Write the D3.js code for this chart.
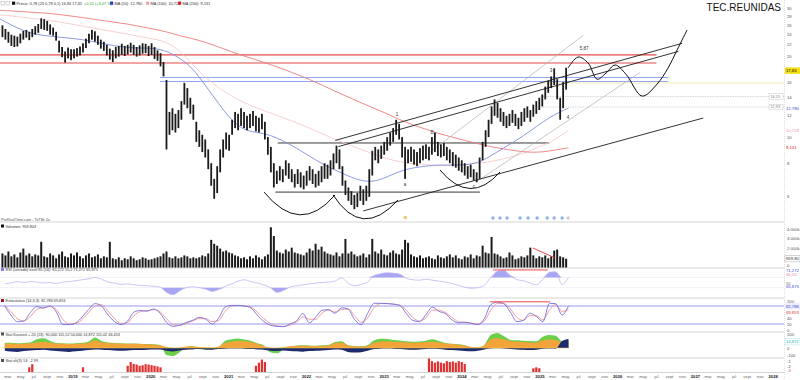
<!DOCTYPE html>
<html><head><meta charset="utf-8">
<script src="https://cdn.jsdelivr.net/npm/d3@7"></script>
<style>body{margin:0;background:#fff}svg{display:block;font-family:"Liberation Sans",Arial,sans-serif}</style>
</head><body><svg id="c" width="800" height="380"></svg>
<script>
// ---------- DATA (biweekly candles from 4 Feb 2018) ----------
const candleHigh=[26.0,25.2,24.6,24.0,23.8,23.6,24.2,24.8,25.0,24.6,
25.2,25.8,26.3,27.6,27.4,27.0,26.2,25.5,24.6,22.8,
21.6,20.8,21.5,21.2,21.2,21.4,21.7,22.3,23.2,24.2,
25.0,24.7,23.8,23.0,22.6,22.0,21.3,21.0,21.6,21.8,
22.2,21.8,22.0,22.4,22.0,21.6,21.9,22.3,22.2,21.8,
22.3,21.6,21.0,20.5,19.0,16.3,12.4,12.8,12.2,12.6,
13.6,15.9,15.2,14.0,13.2,11.4,10.6,10.2,9.8,9.0,
8.0,7.0,7.8,9.0,9.8,10.4,10.2,11.6,12.4,12.2,
12.8,12.4,12.0,12.2,12.5,12.0,11.8,12.2,11.4,10.0,
9.2,8.0,7.5,7.8,7.6,8.2,8.0,7.6,7.3,7.6,
7.4,7.2,7.5,7.8,7.6,7.3,7.5,7.8,8.0,7.9,
8.2,8.7,9.3,9.0,7.8,6.9,6.5,6.3,6.1,6.2,
6.6,6.4,6.6,7.6,8.9,9.2,9.0,9.3,9.6,10.0,
10.4,10.8,11.6,11.2,10.0,9.2,9.0,9.2,9.0,8.8,
9.1,9.3,9.4,9.2,10.0,10.4,9.6,9.4,9.5,9.2,
9.0,8.8,8.6,8.4,8.2,8.0,7.8,7.9,7.6,7.4,
8.4,9.6,10.6,11.6,13.0,13.8,13.4,12.8,12.4,12.0,
12.2,12.6,12.2,11.8,12.4,12.8,13.0,12.6,13.2,13.6,
14.0,14.4,15.4,16.2,16.8,18.0,16.4,14.0,16.0,18.1];
const candleLow=[23.5,23.0,22.4,21.8,21.6,21.7,22.3,23.0,23.4,22.9,
23.5,24.0,24.4,25.2,25.0,24.8,24.0,23.8,22.8,20.6,
19.8,18.9,19.6,19.3,19.6,19.9,20.1,20.6,21.4,22.3,
23.0,22.6,22.0,21.3,20.9,20.1,19.4,19.0,19.6,19.9,
20.2,20.0,20.3,20.6,20.2,19.9,20.1,20.4,20.5,20.0,
20.2,19.5,19.2,18.3,16.8,9.0,10.2,10.6,10.4,10.8,
11.6,13.2,12.8,12.2,11.6,9.6,9.2,8.8,8.4,7.6,
6.6,5.9,6.2,7.4,8.4,9.0,8.9,10.2,10.8,10.6,
11.0,10.8,10.6,10.8,11.0,10.5,10.4,10.7,9.8,8.6,
7.4,6.5,6.7,6.9,6.8,7.2,7.0,6.8,6.5,6.7,
6.5,6.4,6.6,6.9,6.7,6.5,6.6,6.8,7.0,7.0,
7.2,7.6,8.0,7.6,6.6,6.1,5.8,5.6,5.4,5.5,
5.8,5.6,5.8,6.0,7.2,8.2,8.0,8.3,8.6,8.9,
9.3,9.6,10.2,9.8,8.4,7.0,8.0,8.1,7.9,7.8,
8.0,8.2,8.3,8.2,8.6,8.8,8.5,8.4,8.5,8.2,
8.0,7.8,7.7,7.5,7.4,7.2,7.0,7.1,6.9,6.8,
7.0,8.2,9.2,10.0,11.2,12.0,11.8,11.4,11.0,10.8,
11.0,11.3,11.0,10.7,11.0,11.4,11.8,11.4,11.9,12.2,
12.6,13.0,13.8,14.6,15.2,15.6,13.8,11.6,12.8,15.0];
// volume in thousands, same biweekly dates
const volume=[1500,1300,1700,1200,1400,1100,1600,2000,1300,1500,1200,1400,1300,
2700,
1200,1100,1500,1300,1000,1400,1700,1200,1100,1500,1300,1600,1200,1000,1300,1500,1100,1200,1400,1000,1200,1100,
2700,
1000,900,1100,800,1000,900,1200,1000,800,900,1100,1000,850,900,1000,1100,1200,
1500,1700,
1100,1000,1200,1000,1100,1300,1200,1000,1100,1000,1100,1300,1200,1500,
2900,2500,2300,
2000,1700,1800,1600,1500,
1300,1200,1000,1100,900,1200,1000,1300,1100,900,1200,1400,
4200,3300,
1800,1600,1500,1900,1700,2100,1600,1500,
1400,1300,1600,
2000,1800,2500,1900,2200,1700,1500,
1400,1300,1600,1200,1500,
3000,
1500,1700,1400,1200,1300,1500,1100,1400,
3000,
1700,1500,1900,1400,1300,1600,1800,1500,1400,
1900,2900,2600,
1400,1200,1100,1300,1000,1100,1200,1000,900,1300,1100,1000,1200,1400,1100,1300,1000,900,1200,1100,1400,1000,1300,1200,
2300,1600,1500,3200,1500,1400,
1200,1000,1100,1600,1300,900,1000,1200,1100,1300,
2100,
1300,1000,1200,1100,1300,1000,1200,
1800,1900,1200,1100,960];
// moving averages, every 2 months from 15 Jan 2018
const ma50=[27.7,26.1,24.8,24.0,23.7,23.4,23.2,22.8,22.3,21.8,21.5,21.4,21.4,20.9,19.7,18.1,15.5,13.3,11.5,10.6,
10.4,10.2,9.67,9.11,8.51,7.95,7.55,7.17,6.87,6.82,7.11,7.48,7.69,7.81,7.88,7.88,7.88,8.01,8.51,9.11,9.76,10.5,11.4,12.2,12.8];
const ma100=[28.5,28.2,27.8,27.5,27.1,26.6,26.1,25.6,25.1,24.6,24.1,23.6,23.1,22.6,21.0,18.6,16.6,15.2,14.2,13.4,
12.8,12.3,11.8,11.3,10.8,10.3,9.8,9.4,9.0,8.6,8.3,8.1,7.95,7.9,7.85,7.85,7.9,8.0,8.1,8.3,8.55,8.9,9.3,9.8,10.6];
const ma200=[29.6,29.4,29.2,29.0,28.8,28.4,28.0,27.6,27.1,26.7,26.3,25.7,25.2,24.6,23.8,23.2,22.5,21.6,20.7,20.0,
19.3,18.6,17.9,17.1,16.4,15.6,14.8,14.1,13.4,12.8,12.2,11.6,11.1,10.7,10.3,10.0,9.72,9.45,9.21,9.03,8.88,8.77,8.80,8.96,9.13];
// monthly indicators from Feb 2018
const rsi=[48,50,53,51,53,52,50,51,49,52,53,55,57,59,62,58,52,50,47,48,46,45,44,43,41,30,25,33,40,42,
40,37,32,36,43,48,54,57,53,50,46,40,30,34,41,44,46,48,50,51,52,54,61,50,44,47,52,66,70,72,
71,69,60,57,56,58,56,54,52,49,45,41,39,40,45,62,75,77,66,57,55,50,46,58,73,74,47,62];
const stochK=[80,50,28,30,58,78,73,80,60,18,18,24,45,68,88,80,50,28,18,30,60,65,63,70,55,26,12,16,25,32,
42,36,20,40,76,82,82,80,74,50,28,16,12,11,20,30,55,24,44,66,68,56,74,70,35,18,55,89,89,88,
86,82,55,32,28,50,76,62,55,34,24,26,22,18,38,84,93,88,60,28,32,56,45,28,89,88,50,80];
const stochD=[82,62,38,30,45,68,75,78,68,35,20,22,36,58,80,84,62,38,22,25,48,62,64,68,60,38,18,15,22,30,
38,38,28,32,62,80,82,80,76,60,38,22,14,12,16,26,44,36,36,56,66,60,68,70,48,26,40,75,88,88,
86,83,66,42,30,40,66,66,58,42,28,25,23,20,30,66,88,88,70,42,32,48,48,34,66,86,62,68];
const statOrange=[30,32,28,30,34,40,42,38,32,30,28,30,32,35,55,40,36,34,32,30,30,28,26,24,20,8,2,4,10,12,8,6,4,10,
35,45,50,48,42,30,15,4,2,6,12,14,16,15,14,16,18,35,40,18,12,10,16,38,44,46,45,42,40,38,40,42,45,40,
32,28,24,18,8,6,20,60,70,62,50,45,42,40,38,55,60,58,40,45];
const statGreen=[36,38,34,36,40,62,70,52,36,34,32,34,38,45,75,50,40,36,34,32,33,30,28,26,22,-50,-58,-30,4,14,-8,-12,-6,6,
50,62,68,60,52,34,18,-30,-38,-10,10,18,20,18,16,20,22,42,48,20,14,12,20,55,66,64,58,54,48,44,46,52,62,50,
36,30,26,20,4,2,22,92,108,85,58,55,52,50,48,80,92,88,50,55];
const statNavy=[-20,-25,-28,-22,-18,-15,-12,-18,-22,-25,-28,-24,-20,-15,-10,-12,-15,-18,-20,-18,-15,-14,-12,-10,-10,
-20,-25,-18,-12,-10,-8,-10,-12,-8,-5,-4,-4,-6,-8,-10,-12,-20,-22,-18,-22,-24,-26,-22,-20,-18,-15,
-10,-12,-28,-32,-30,-20,-8,-5,-4,-6,-8,-10,-12,-10,-8,-6,-8,-12,-15,-18,-22,-24,-20,-10,
-4,-2,-4,-8,-10,-12,-14,-12,-6,-4,-5,50,65];
const shIdx=[9,10,27,42,43,44,45,46,47,48,49,50,51,52,53,85,86,87,88,143,144,145,146,147,148,149,150,151,152,153,154,155,178,179,180];
const shVal=[1.5,2.5,1.5,2,3.2,2.6,2.4,2.0,2.2,2.5,2.4,2.2,2.0,1.8,1.5,2.0,3.0,4.0,3.2,4.5,3.5,3.0,3.4,3.0,2.8,3.5,3.2,3.4,3.0,3.5,3.2,2.6,1.2,1.5,1.2];
const priceTicks=[6,8,10,12,14,16,20,22,24,26,28,30];
const volTicks=[2000,3000,4000];
const stochTicks=[40,20,0];
const monthNames={2:"mar",4:"may",6:"jul",8:"sept",10:"nov"};
// drawn analysis objects, in [decimal year, price]
const redLevels=[20.2,18.84];
const blueLevels=[16.64,16.08];
const blackLevels=[[9.51,2021.63,2025.12],[6.25,2021.60,2024.23]];
const dottedLevels=[14.15,12.93];
const blackTrends=[[2022.37,9.72,2026.83,22.3],[2022.41,9.22,2026.78,20.8],[2022.73,5.32,2027.10,11.77]];
const grayTrends=[[2023.59,8.8,2025.56,23.9],[2024.18,6.81,2026.29,17.4]];
const arcs=[[2021.455,6.25,2021.918,4.29,2022.368,6.10],[2022.342,6.10,2022.715,4.15,2023.177,5.84],[2023.717,7.55,2024.103,5.55,2024.488,7.42]];
const forecastYears=[2025.362,2025.491,2025.620,2025.735,2025.851,2025.967,2026.108,2026.314,2026.507,2026.648,2026.764,2026.892];
const forecastPrices=[18.05,19.83,18.84,16.4,17.3,18.52,17.1,14.2,15.74,18.05,21.05,24.98];
const waveLabels=[["1",2023.165,11.98],["a",2023.267,6.58],["B",2023.614,10.27],["c",2024.154,6.47],["3",2025.144,17.4],["4",2025.362,11.67],["5,87",2025.568,21.05]];
const eventYears=[2024.398,2024.488,2024.578,2024.745,2024.848,2024.964,2025.093,2025.183,2025.285,2025.362];

// ---------- SCALES ----------
const yr=f=>{const y=Math.floor(f),s=new Date(y,0,1),e=new Date(y+1,0,1);return new Date(+s+(f-y)*(e-s));};
const xS=d3.scaleTime().domain([new Date(2018,0,1),new Date(2028,0,1)]).range([-4.8,773.2]);
const yP=d3.scaleLog().domain([4.84,32.28]).range([222,0]);
const yV=d3.scaleLinear().domain([0,4000]).range([268,229.2]);
const yR=d3.scaleLinear().domain([20,80]).range([297,269]);
const yK=d3.scaleLinear().domain([0,100]).range([330,300]);
const yS=d3.scaleLinear().domain([0,100]).range([348,334]);
const yH=d3.scaleLinear().domain([0,4.5]).range([372,358]);
const candleDates=candleHigh.map((_,i)=>d3.timeDay.offset(new Date(2018,1,4),14*i));
const monthDates=rsi.map((_,m)=>new Date(2018,1+m,15));
const maDates=ma50.map((_,k)=>new Date(2018,2*k,15));
const RX=784;

const svg=d3.select("#c");
const defs=svg.append("defs");
const panels={main:[0,222],vol:[222,268],rsi:[268,298],sto:[298,332],stat:[332,358],sh:[358,372]};
Object.entries(panels).forEach(([k,[a,b]])=>{
  defs.append("clipPath").attr("id","cl-"+k).append("rect").attr("x",0).attr("y",a).attr("width",RX).attr("height",b-a);
});
const G=k=>svg.append("g").attr("clip-path",`url(#cl-${k})`);

// ---------- MAIN PANEL ----------
const gm=G("main");
dottedLevels.forEach(p=>gm.append("line").attr("x1",xS(yr(2025.0))).attr("x2",RX).attr("y1",yP(p)).attr("y2",yP(p))
  .attr("stroke","#bbb").attr("stroke-width",0.6).attr("stroke-dasharray","1.5,1"));
gm.append("line").attr("x1",xS(yr(2025.0))).attr("x2",RX).attr("y1",yP(15.88)).attr("y2",yP(15.88)).attr("stroke","#f1e9a8").attr("stroke-width",0.8);
redLevels.forEach(p=>gm.append("line").attr("x1",0).attr("x2",xS(yr(2026.5))).attr("y1",yP(p)).attr("y2",yP(p))
  .attr("stroke","#e34b4b").attr("stroke-width",1.1));
blueLevels.forEach(p=>gm.append("line").attr("x1",xS(yr(2020.12))).attr("x2",xS(yr(2026.65))).attr("y1",yP(p)).attr("y2",yP(p))
  .attr("stroke","#93a6f2").attr("stroke-width",1.1));
blackLevels.forEach(([p,a,b])=>gm.append("line").attr("x1",xS(yr(a))).attr("x2",xS(yr(b))).attr("y1",yP(p)).attr("y2",yP(p))
  .attr("stroke","#222").attr("stroke-width",0.9));
const maLine=arr=>d3.line().x((d,i)=>xS(maDates[i])).y(d=>yP(d)).curve(d3.curveBasis)(arr);
gm.append("path").attr("d",maLine(ma100)).attr("fill","none").attr("stroke","#f5cccc").attr("stroke-width",0.9);
gm.append("path").attr("d",maLine(ma200)).attr("fill","none").attr("stroke","#ec7c7c").attr("stroke-width",0.9);
gm.append("path").attr("d",maLine(ma50)).attr("fill","none").attr("stroke","#7f8fe0").attr("stroke-width",0.9);
grayTrends.forEach(([a,p,b,q])=>gm.append("line").attr("x1",xS(yr(a))).attr("y1",yP(p)).attr("x2",xS(yr(b))).attr("y2",yP(q))
  .attr("stroke","#b0b0b0").attr("stroke-width",0.7));
gm.selectAll("rect.cd").data(candleHigh).join("rect").attr("class","cd")
  .attr("x",(d,i)=>xS(candleDates[i])-0.9).attr("width",1.8)
  .attr("y",d=>yP(d)).attr("height",(d,i)=>Math.max(1,yP(candleLow[i])-yP(d))).attr("fill","#1b1b1b");
blackTrends.forEach(([a,p,b,q])=>gm.append("line").attr("x1",xS(yr(a))).attr("y1",yP(p)).attr("x2",xS(yr(b))).attr("y2",yP(q))
  .attr("stroke","#1d1d1d").attr("stroke-width",0.9));
arcs.forEach(([a,p,c,q,b,r])=>gm.append("path")
  .attr("d",`M${xS(yr(a))},${yP(p)}Q${xS(yr(c))},${yP(q)} ${xS(yr(b))},${yP(r)}`)
  .attr("fill","none").attr("stroke","#111").attr("stroke-width",1));
gm.append("path").attr("d",d3.line().x(d=>xS(yr(d))).y((d,i)=>yP(forecastPrices[i])).curve(d3.curveCatmullRom)(forecastYears))
  .attr("fill","none").attr("stroke","#111").attr("stroke-width",1);
waveLabels.forEach(([t,a,p])=>gm.append("text").attr("x",xS(yr(a))).attr("y",yP(p)).attr("font-size",4.5).attr("fill","#333").attr("text-anchor","middle").text(t));
eventYears.forEach((a,i)=>gm.append("circle").attr("cx",xS(yr(a))).attr("cy",218).attr("r",1.7)
  .attr("fill",i===eventYears.length-1?"#cfcfcf":"#8fb2e6"));
gm.append("rect").attr("x",xS(yr(2023.27))-1.5).attr("y",216).attr("width",3).attr("height",3).attr("fill","#e8c878");
svg.append("text").attr("x",781).attr("y",11).attr("text-anchor","end").attr("font-size",10).attr("fill","#111").text("TEC.REUNIDAS");
svg.append("text").attr("x",1).attr("y",220.5).attr("font-size",3.8).attr("fill","#555").text("ProRealTime.com - TeTBr 2a");

const hd=svg.append("g").attr("font-size",3.9).attr("fill","#333");
hd.append("rect").attr("x",1).attr("y",1.5).attr("width",3.5).attr("height",3.5).attr("fill","none").attr("stroke","#999").attr("stroke-width",0.4);
hd.append("rect").attr("x",6).attr("y",1.5).attr("width",3.5).attr("height",3.5).attr("fill","none").attr("stroke","#999").attr("stroke-width",0.4);
const legendItems=[[12,"#111","Precio: 0,78 (23 0,78 0,1) 16,83 17,65"],[110,"#2233cc","MA (50): 12,780"],[146,"#f3a0b0","MA (100): 10,723"],[178,"#dd2222","MA (200): 9,131"]];
legendItems.forEach(([x0,c,t])=>{hd.append("rect").attr("x",x0).attr("y",1.6).attr("width",3.2).attr("height",3.2).attr("fill",c);
  hd.append("text").attr("x",x0+4.5).attr("y",4.6).text(t);});
hd.append("text").attr("x",84).attr("y",4.6).attr("fill","#2a9a2a").text("+0,52 (+3,07 %)");

// ---------- VOLUME ----------
const gv=G("vol");
gv.selectAll("rect").data(volume).join("rect").attr("x",(d,i)=>xS(candleDates[i])-1).attr("width",2)
  .attr("y",d=>yV(d)).attr("height",d=>yV(0)-yV(d)).attr("fill","#1b1b1b");
gv.append("line").attr("x1",xS(yr(2024.91))).attr("y1",yV(2060)).attr("x2",xS(yr(2025.196))).attr("y2",yV(1030)).attr("stroke","#e33").attr("stroke-width",0.9);

// ---------- RSI ----------
const gr=G("rsi");
const mx=(d,i)=>xS(monthDates[i]);
[62,40].forEach(v=>gr.append("line").attr("x1",0).attr("x2",RX).attr("y1",yR(v)).attr("y2",yR(v)).attr("stroke","#e6e6f4").attr("stroke-width",0.6));
gr.append("path").attr("d",d3.area().x(mx).y0(yR(62)).y1(d=>yR(Math.max(d,62))).curve(d3.curveMonotoneX)(rsi)).attr("fill","#a6a6f2");
gr.append("path").attr("d",d3.area().x(mx).y0(yR(40)).y1(d=>yR(Math.min(d,40))).curve(d3.curveMonotoneX)(rsi)).attr("fill","#a6a6f2");
gr.append("path").attr("d",d3.line().x(mx).y(d=>yR(d)).curve(d3.curveMonotoneX)(rsi)).attr("fill","none").attr("stroke","#c4b4f4").attr("stroke-width",0.8);
gr.append("line").attr("x1",xS(yr(2024.40))).attr("x2",xS(yr(2025.10))).attr("y1",yR(78)).attr("y2",yR(78)).attr("stroke","#e33").attr("stroke-width",0.9);

// ---------- STOCHASTIC ----------
const gs=G("sto");
[80,20].forEach(v=>gs.append("line").attr("x1",0).attr("x2",RX).attr("y1",yK(v)).attr("y2",yK(v)).attr("stroke","#8c8cec").attr("stroke-width",0.9));
gs.append("path").attr("d",d3.line().x(mx).y(d=>yK(d)).curve(d3.curveMonotoneX)(stochD)).attr("fill","none").attr("stroke","#f29292").attr("stroke-width",0.9);
gs.append("path").attr("d",d3.line().x(mx).y(d=>yK(d)).curve(d3.curveMonotoneX)(stochK)).attr("fill","none").attr("stroke","#7070e0").attr("stroke-width",0.9);
gs.append("line").attr("x1",xS(yr(2024.36))).attr("x2",xS(yr(2025.13))).attr("y1",yK(94)).attr("y2",yK(94)).attr("stroke","#e33").attr("stroke-width",0.9);

// ---------- STAT ----------
const gt=G("stat");
const ar=arr=>d3.area().x(mx).y0(yS(0)).y1(d=>yS(d)).curve(d3.curveMonotoneX)(arr);
gt.append("path").attr("d",ar(statGreen)).attr("fill","#6ccf4a");
gt.append("path").attr("d",ar(statOrange)).attr("fill","#f2a43a");
gt.append("path").attr("d",ar(statNavy)).attr("fill","#1c2a6e");
gt.append("line").attr("x1",0).attr("x2",xS(monthDates[87])).attr("y1",yS(0)).attr("y2",yS(0)).attr("stroke","#e8d34a").attr("stroke-width",0.5);

// ---------- SH BARS ----------
const gh=G("sh");
gh.selectAll("rect").data(shVal).join("rect").attr("x",(d,i)=>xS(candleDates[shIdx[i]])-1.1).attr("width",2.2)
  .attr("y",d=>yH(d)).attr("height",d=>yH(0)-yH(d)).attr("fill","#e03030");

// ---------- SEPARATORS & RIGHT AXIS ----------
[222,268,298,332,358,372.5].forEach(y=>svg.append("line").attr("x1",0).attr("x2",RX).attr("y1",y).attr("y2",y).attr("stroke","#d4d4d4").attr("stroke-width",1));
svg.append("line").attr("x1",RX+0.5).attr("x2",RX+0.5).attr("y1",0).attr("y2",380).attr("stroke","#c8c8c8").attr("stroke-width",0.6).attr("stroke-dasharray","1,1");
const ax=svg.append("g").attr("font-size",4.2).attr("fill","#555");
priceTicks.forEach(t=>ax.append("text").attr("x",787).attr("y",yP(t)+1.5).text(t));
volTicks.forEach(t=>ax.append("text").attr("x",787).attr("y",yV(t)+1.5).text((t/1000).toFixed(3)+"k"));
ax.append("text").attr("x",787).attr("y",yV(0)-1).text("0");
stochTicks.forEach(t=>ax.append("text").attr("x",787).attr("y",yK(t)+1.5).text(t));
ax.append("text").attr("x",787).attr("y",yK(100)+3).text("100");
[[100,"100"],[0,"0"],[-50,"-100"]].forEach(([v,t])=>ax.append("text").attr("x",787).attr("y",yS(v)+1.5).text(t));
ax.append("text").attr("x",787).attr("y",yH(3.5)+1.5).text("-1");
ax.append("text").attr("x",787).attr("y",yH(1.8)+1.5).text("-2");
ax.append("text").attr("x",787).attr("y",yH(0.3)+1).attr("fill","#e04040").text("-3");
const tag=(y,t,fill,bg,stroke)=>{if(bg)ax.append("rect").attr("x",785).attr("y",y-3.2).attr("width",15).attr("height",6.4).attr("fill",bg).attr("stroke",stroke||"none").attr("stroke-width",0.4);
  ax.append("text").attr("x",786).attr("y",y+1.5).attr("fill",fill).text(t);};
tag(yP(17.65),"17,65","#000","#f6df10");
tag(yP(ma50[ma50.length-1]),"12,780","#3344cc");
tag(yP(ma100[ma100.length-1]),"10,723","#f08aa0");
tag(yP(ma200[ma200.length-1]),"9,131","#e02020");
tag(yV(960),"959.80","#333","#fff","#999");
tag(yR(76),"71,272","#4444dd");
tag(yR(68),"55,20","#e08aa0");
tag(yR(50),"50","#777");
tag(yR(42),"65,875","#4444dd");
tag(yK(80),"82,786","#3344cc","#eef");
tag(yK(60),"69,853","#e03030");
tag(yS(45),"14,872","#20b0c0","#fff","#9dd");
dottedLevels.forEach(p=>{svg.append("rect").attr("x",769).attr("y",yP(p)-2.8).attr("width",14).attr("height",5.6).attr("fill","#fff").attr("stroke","#bbb").attr("stroke-width",0.4);
  svg.append("text").attr("x",770.5).attr("y",yP(p)+1.4).attr("font-size",3.8).attr("fill","#777").text(p.toFixed(2).replace(".",","));});

const pt=svg.append("g").attr("font-size",3.8).attr("fill","#333");
const titles=[[227.5,"#111","Volumen: 959.803"],[271,"#8877ee","RSI (cerrado) nivel 85 (14): 65,272  55,2  71,272  65,875"],
 [302,"#aa1133","Estocástico (14,3,3): 82,786  69,853"],[335.5,"#555","Stat Kurzzeit + 20 (13):  90,000   115,52   50,000   14,872   115,02   46,453"],[362,"#555","Stat sh(3) 14: -2,99"]];
titles.forEach(([y,c,t])=>{pt.append("rect").attr("x",1).attr("y",y-3).attr("width",3).attr("height",3).attr("fill",c);pt.append("text").attr("x",5.5).attr("y",y).text(t);});

// ---------- TIME AXIS ----------
const months=d3.timeMonth.range(new Date(2018,2,1),new Date(2028,1,2),2);
const tx=svg.append("g").attr("font-size",4.2).attr("text-anchor","middle");
months.forEach(d=>{const x=xS(d);if(x>RX-4)return;const m=d.getMonth();
  tx.append("text").attr("x",x).attr("y",377.8).attr("fill",m===0?"#222":"#666").attr("font-weight",m===0?"bold":"normal")
   .text(m===0?d.getFullYear():monthNames[m]);});
</script></body></html>
